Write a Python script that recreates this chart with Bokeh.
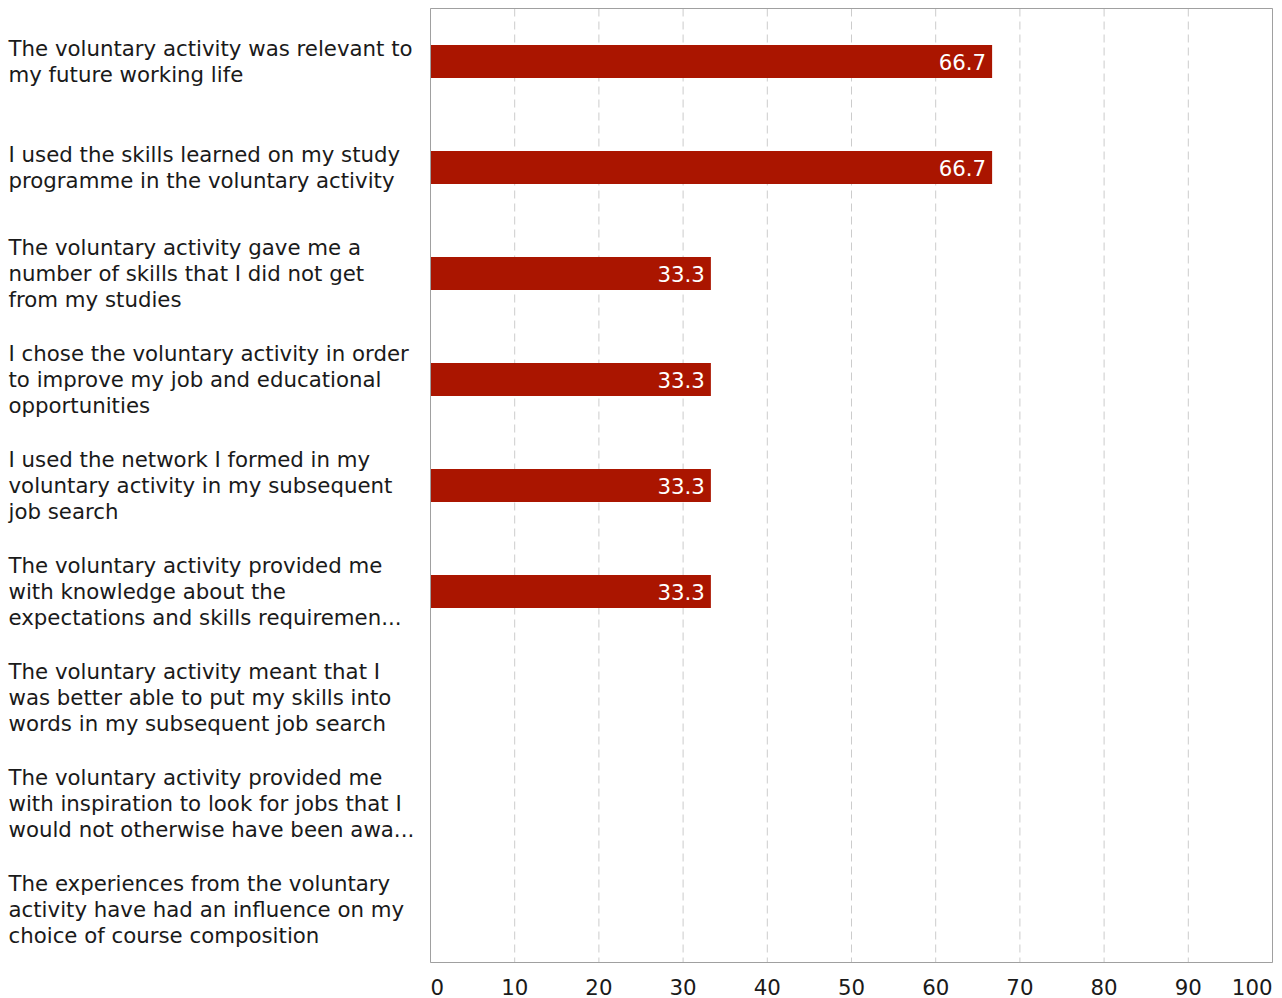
from bokeh.plotting import figure
from bokeh.models import ColumnDataSource, Range1d
from bokeh.core.properties import value
from bokeh.embed import file_html
from bokeh.resources import INLINE

categories = [
    "The voluntary activity was relevant to\nmy future working life",
    "I used the skills learned on my study\nprogramme in the voluntary activity",
    "The voluntary activity gave me a\nnumber of skills that I did not get\nfrom my studies",
    "I chose the voluntary activity in order\nto improve my job and educational\nopportunities",
    "I used the network I formed in my\nvoluntary activity in my subsequent\njob search",
    "The voluntary activity provided me\nwith knowledge about the\nexpectations and skills requiremen...",
    "The voluntary activity meant that I\nwas better able to put my skills into\nwords in my subsequent job search",
    "The voluntary activity provided me\nwith inspiration to look for jobs that I\nwould not otherwise have been awa...",
    "The experiences from the voluntary\nactivity have had an influence on my\nchoice of course composition",
]
values = [66.7, 66.7, 33.3, 33.3, 33.3, 33.3, 0, 0, 0]
x_ticks = [0, 10, 20, 30, 40, 50, 60, 70, 80, 90, 100]
x_min, x_max = 0, 100

FONT = value("DejaVu Sans")
FSIZE = "21.3px"
BAR = "#AA1500"
TXT = "#1a1a1a"

# layout (pixels on the canvas)
W, H = 1282, 998
BOX_L, BOX_R, BOX_T, BOX_B = 430, 1272, 8, 962
n = len(categories)
px_x = (BOX_R - BOX_L) / (x_max - x_min)
px_y = (BOX_B - BOX_T) / n
xr = Range1d(x_min - BOX_L / px_x, x_max + (W - BOX_R) / px_x)
yr = Range1d(n - 0.5 + (H - BOX_B) / px_y, -0.5 - BOX_T / px_y)

pos = list(range(n))
src = ColumnDataSource(dict(
    cat=categories,
    pos=pos,
    val=values,
    txt=[("%.1f" % v) if v > 0 else "" for v in values],
))
tick_src = ColumnDataSource(dict(
    x=x_ticks,
    lab=[str(t) for t in x_ticks],
    align=["left" if t == x_ticks[0] else ("right" if t == x_ticks[-1] else "center") for t in x_ticks],
))

p = figure(
    x_range=xr, y_range=yr,
    frame_width=W, frame_height=H,
    min_border=0,
    output_backend="svg", toolbar_location=None,
)
p.axis.visible = False
p.grid.visible = False
p.outline_line_color = None
p.background_fill_color = "white"
p.border_fill_color = "white"

# dashed vertical grid lines inside the plot box
p.segment(x0="x", x1="x", y0=-0.5, y1=n - 0.5, source=tick_src,
          line_color="#cccccc", line_width=1, line_dash="8 5")

p.hbar(y="pos", right="val", left=x_min, height=0.31, source=src, color=BAR, line_color=None)

# plot box
p.quad(left=x_min, right=x_max, top=-0.5, bottom=n - 0.5,
       fill_color=None, line_color="#a0a0a0", line_width=1)

# value labels
p.text(x="val", y="pos", text="txt", source=src, x_offset=-6,
       text_align="right", text_baseline="middle",
       text_color="white", text_font=FONT, text_font_size=FSIZE)

# category labels
p.text(x=xr.start, y="pos", text="cat", source=src, x_offset=8,
       text_align="left", text_baseline="middle", text_line_height=1.05,
       text_color=TXT, text_font=FONT, text_font_size=FSIZE)

# x tick labels
p.text(x="x", y=n - 0.5, text="lab", source=tick_src, y_offset=24,
       text_align="align", text_baseline="middle",
       text_color=TXT, text_font=FONT, text_font_size=FSIZE)

open("out.html", "w").write(file_html(p, INLINE))
